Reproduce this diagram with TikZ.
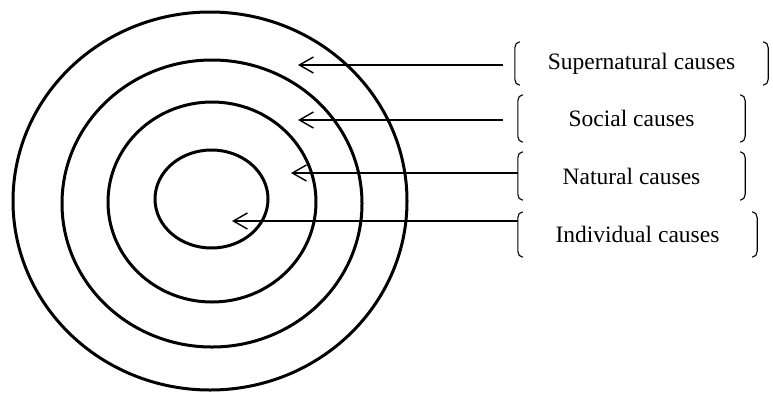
\documentclass[tikz,border=0pt]{standalone}
\usepackage{fontspec}
\setmainfont{Liberation Serif}
\usetikzlibrary{arrows.meta,calc}
\begin{document}
\begin{tikzpicture}[x=1pt,y=-1pt,
  ring/.style={line width=3pt},
  pointer/.style={line width=1.4pt,
    {Straight Barb[length=14pt,width=16pt,line width=1.4pt]}-},
  label/.style={inner sep=0pt,font=\fontsize{23.5}{26}\selectfont},
  brk/.style={line width=1.1pt}]
\useasboundingbox (0,0) rectangle (773,392);

% concentric rings
\draw[ring] (210,201) ellipse [x radius=197, y radius=189];
\draw[ring] (212,203.5) ellipse [x radius=150, y radius=143.5];
\draw[ring] (212,202) ellipse [x radius=104, y radius=100];
\draw[ring] (211.5,199) ellipse [x radius=56.5, y radius=49];

% bracketed labels
\node[label,minimum width=253pt,minimum height=43pt] (l1) at (641.5,63.5) {Supernatural causes};
\node[label,minimum width=227pt,minimum height=47pt] (l2) at (631.5,118.5) {Social causes};
\node[label,minimum width=227pt,minimum height=48pt] (l3) at (631.5,176) {Natural causes};
\node[label,minimum width=239pt,minimum height=45pt] (l4) at (637.5,234.5) {Individual causes};

\foreach \n in {l1,l2,l3,l4}{
  \draw[brk] ($(\n.north west)+(5,0)$) to[out=180,in=90] ($(\n.north west)+(0,6)$)
    -- ($(\n.south west)+(0,-6)$) to[out=-90,in=180] ($(\n.south west)+(5,0)$);
  \draw[brk] ($(\n.north east)+(-5,0)$) to[out=0,in=90] ($(\n.north east)+(0,6)$)
    -- ($(\n.south east)+(0,-6)$) to[out=-90,in=0] ($(\n.south east)+(-5,0)$);
}

% arrow targets and line starts
\coordinate (t1) at (298,65);
\coordinate (t2) at (298,120);
\coordinate (t3) at (291,173);
\coordinate (t4) at (232,221);
\coordinate (s1) at (503,65);
\coordinate (s2) at (503,120);
\coordinate (s3) at (l3.west |- t3);
\coordinate (s4) at (l4.west |- t4);

\foreach \i in {1,2,3,4}{
  \draw[pointer] (t\i) -- (s\i);
}
\end{tikzpicture}
\end{document}
